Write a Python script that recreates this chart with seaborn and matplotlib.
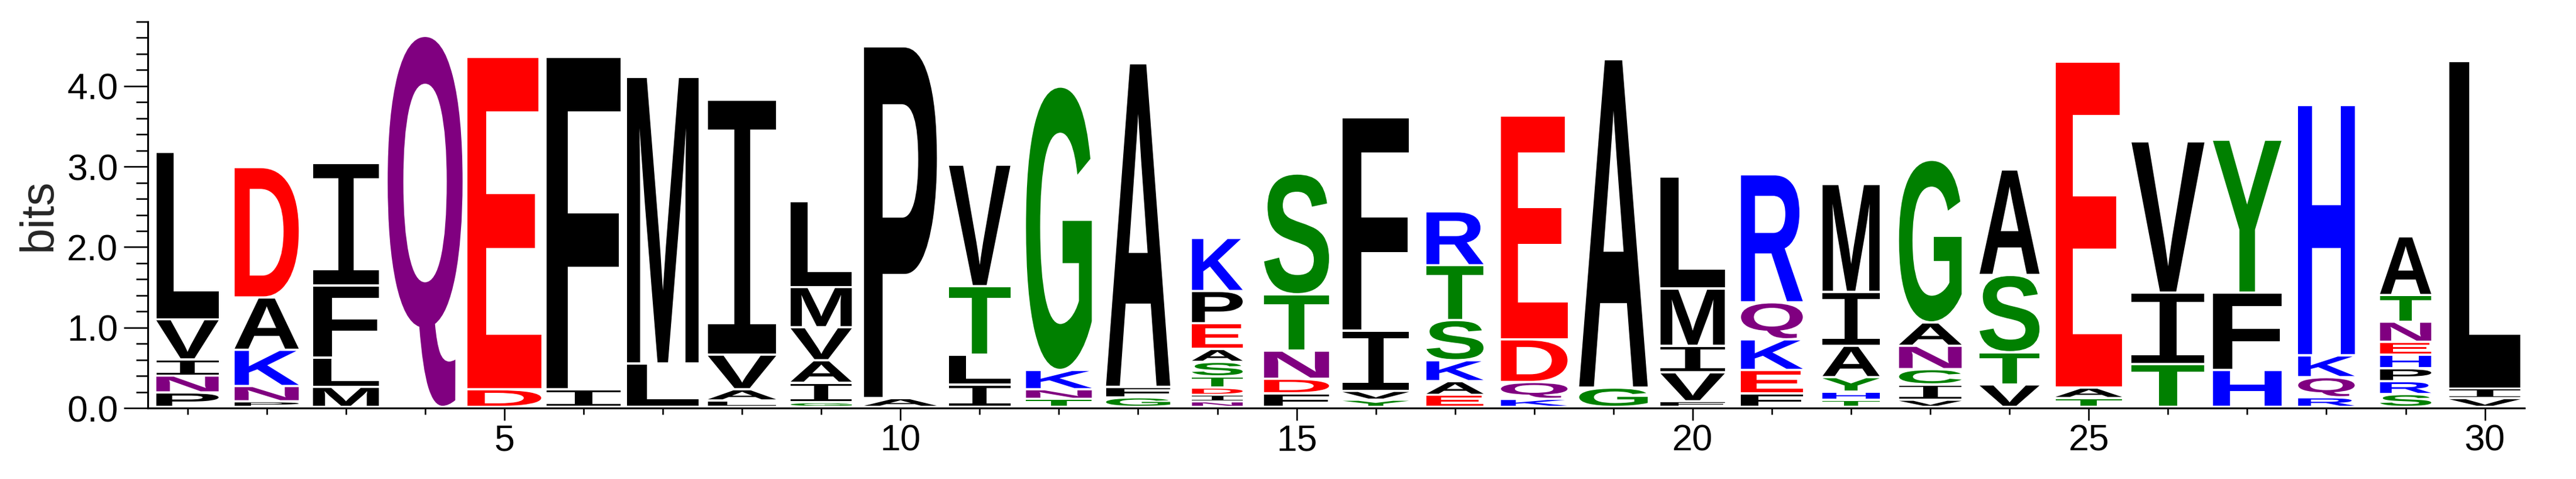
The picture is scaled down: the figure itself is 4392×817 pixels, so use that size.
import numpy as np
import pandas as pd
import matplotlib
matplotlib.use("Agg")
import matplotlib.pyplot as plt
import seaborn as sns
from matplotlib.textpath import TextPath
from matplotlib.font_manager import FontProperties
from matplotlib.patches import PathPatch
from matplotlib.transforms import Affine2D
from matplotlib.ticker import MultipleLocator, FormatStrFormatter

# logo data, one stack per position, letters listed bottom -> top
positions = list(range(1, 31))
stack_letters = [
    "PNIVL", "PNKAD", "MLFI", "Q", "DE", "IF", "LM", "LAVI", "GIAVML", "AP",
    "ILTV", "TNKG", "GFA", "NIDTSAEPK", "FDNTS", "YVIF", "EAKSTR", "KQDE", "GA", "FVIML",
    "FEKQR", "THYAIM", "VICNAG", "VTSA", "TAE", "TIV", "HFY", "RQKH", "SRPHENTA", "VIL",
]
stack_bits = [
    [.18, .21, .20, .50, 2.08], [.07, .19, .45, .65, 1.62], [.25, .36, .90, 1.52], [4.61],
    [.22, 4.13], [.22, 4.13], [.54, 3.56], [.08, .14, .43, 3.17],
    [.06, .24, .28, .41, .50, 1.07], [.11, 4.37],
    [.28, .37, .85, 1.51], [.10, .12, .24, 3.52], [.12, .13, 4.02],
    [.07, .08, .09, .14, .18, .16, .32, .40, .66], [.17, .18, .35, .70, 1.50],
    [.09, .11, .75, 2.65], [.15, .17, .26, .50, .68, .67], [.10, .21, .53, 2.78],
    [.24, 4.08], [.07, .36, .33, .71, 1.39],
    [.17, .29, .38, .46, 1.59], [.09, .10, .18, .39, .67, 1.34], [.09, .19, .19, .29, .29, 2.02],
    [.28, .40, .96, 1.31], [.11, .13, 4.05], [.53, .89, 1.88], [.46, .96, 1.90],
    [.12, .25, .27, 3.11], [.16, .16, .16, .17, .16, .25, .33, .73], [.11, .12, 4.07],
]
# relative column weight (drawn as letter width)
col_weight = [0.786, 0.809, 0.831, 0.945, 0.93, 0.93, 0.903, 0.862, 0.771, 0.92,
              0.775, 0.83, 0.81, 0.64, 0.82, 0.84, 0.72, 0.84, 0.865, 0.81,
              0.78, 0.72, 0.79, 0.756, 0.84, 0.92, 0.865, 0.714, 0.646, 0.9]

rows = []
for pos, letters, bits, w in zip(positions, stack_letters, stack_bits, col_weight):
    base = 0.0
    for ch, b in zip(letters, bits):
        rows.append({"pos": pos, "letter": ch, "bits": b, "base": base, "weight": w})
        base += b
df = pd.DataFrame(rows)

chem_colors = {}
for ch in "GSTYC":
    chem_colors[ch] = "#008000"
for ch in "NQ":
    chem_colors[ch] = "#800080"
for ch in "KRH":
    chem_colors[ch] = "#0000FF"
for ch in "DE":
    chem_colors[ch] = "#FF0000"
for ch in "PAWFLIMV":
    chem_colors[ch] = "#000000"

sns.set_theme(style="ticks")
plt.rcParams["font.family"] = ["Liberation Sans", "DejaVu Sans"]

fig = plt.figure(figsize=(43.92, 8.17), dpi=100)
ax = fig.add_axes([0.0574, 0.1481, 0.9226, 0.8066])

fp_main = FontProperties(family="Liberation Sans", weight="bold")
fp_i = FontProperties(family="Liberation Mono", weight="normal")
gap = 0.028

for r in df.itertuples():
    fp = fp_i if r.letter == "I" else fp_main
    tp = TextPath((0, 0), r.letter, size=1, prop=fp)
    bb = tp.get_extents()
    h = max(r.bits - gap, 0.005)
    tr = (Affine2D()
          .translate(-bb.x0, -bb.y0)
          .scale(r.weight / bb.width, h / bb.height)
          .translate(r.pos - r.weight / 2, r.base + gap))
    ax.add_patch(PathPatch(tr.transform_path(tp), facecolor=chem_colors[r.letter],
                           edgecolor="none", lw=0))

ax.set_xlim(0.5, 30.5)
ax.set_ylim(0, 4.8)
sns.despine(ax=ax)
for s in ["left", "bottom"]:
    ax.spines[s].set_linewidth(2.3)
    ax.spines[s].set_color("black")

ax.xaxis.set_major_locator(MultipleLocator(5))
ax.xaxis.set_minor_locator(MultipleLocator(1))
ax.yaxis.set_major_locator(MultipleLocator(1))
ax.yaxis.set_minor_locator(MultipleLocator(0.2))
ax.yaxis.set_major_formatter(FormatStrFormatter("%.1f"))

ax.tick_params(axis="y", which="major", length=29.5, width=1.9, pad=7, labelsize=45, colors="black")
ax.tick_params(axis="y", which="minor", length=14.4, width=1.9, colors="black")
ax.tick_params(axis="x", which="major", length=15, width=1.9, pad=4, labelsize=45, colors="black")
ax.tick_params(axis="x", which="minor", length=8, width=1.9, colors="black")

ax.set_ylabel("bits", fontsize=57)
ax.yaxis.set_label_coords(-0.0365, 0.5)
ax.grid(False)

fig.savefig("out.png", dpi=100)
